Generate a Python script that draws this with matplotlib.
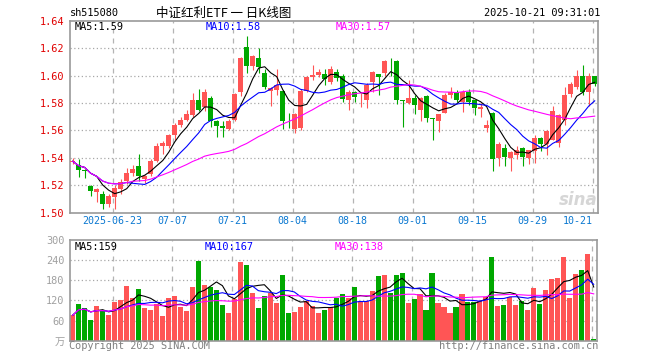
import numpy as np
import pandas as pd
import matplotlib
matplotlib.use('Agg')
import matplotlib.pyplot as plt

# trading days shown (National Day holiday removed)
dates = pd.bdate_range('2025-06-12', '2025-10-21')
dates = dates[(dates < '2025-10-01') | (dates > '2025-10-08')]

# daily prices
open_ = [1.537, 1.535, 1.5314, 1.5195, 1.515, 1.514, 1.506, 1.5115, 1.5175, 1.5228,
         1.529, 1.5337, 1.5245, 1.528, 1.5378, 1.5487, 1.5486, 1.557, 1.5638, 1.5677,
         1.571, 1.5825, 1.5772, 1.5835, 1.567, 1.563, 1.5612, 1.5677, 1.588, 1.6205,
         1.607, 1.6127, 1.602, 1.589, 1.5895, 1.5887, 1.5685, 1.5613, 1.5621, 1.5891,
         1.5989, 1.6001, 1.6013, 1.5952, 1.6026, 1.600, 1.5821, 1.5882, 1.5833, 1.5821,
         1.5956, 1.6012, 1.6017, 1.6095, 1.6103, 1.5821, 1.5801, 1.5838, 1.5752, 1.585,
         1.5691, 1.5669, 1.5728, 1.5858, 1.5882, 1.5809, 1.5882, 1.5821, 1.5757, 1.562,
         1.5728, 1.5397, 1.5471, 1.5397, 1.5424, 1.5473, 1.5399, 1.5453, 1.5547, 1.5502,
         1.553, 1.551, 1.5675, 1.5863, 1.5913, 1.5995, 1.588, 1.5995]
high = [1.540, 1.539, 1.5316, 1.5205, 1.518, 1.516, 1.5135, 1.520, 1.5245, 1.5325,
        1.535, 1.5428, 1.5275, 1.539, 1.5505, 1.552, 1.5575, 1.5655, 1.5695, 1.575,
        1.587, 1.590, 1.590, 1.585, 1.5675, 1.5665, 1.5685, 1.5875, 1.6135, 1.6285,
        1.615, 1.620, 1.6045, 1.592, 1.6045, 1.5895, 1.5725, 1.5726, 1.590, 1.600,
        1.6075, 1.605, 1.6045, 1.607, 1.605, 1.601, 1.5895, 1.589, 1.587, 1.5944,
        1.603, 1.6015, 1.611, 1.6127, 1.611, 1.5825, 1.5968, 1.5858, 1.5846, 1.5858,
        1.5691, 1.5723, 1.587, 1.5914, 1.5895, 1.5895, 1.590, 1.5825, 1.5797, 1.5674,
        1.5735, 1.5515, 1.5502, 1.545, 1.549, 1.5478, 1.546, 1.5564, 1.5555, 1.5605,
        1.5777, 1.5723, 1.5914, 1.5956, 1.6042, 1.6078, 1.6022, 1.5998]
low = [1.5355, 1.526, 1.5256, 1.512, 1.508, 1.503, 1.504, 1.5025, 1.5135, 1.521,
       1.527, 1.523, 1.5215, 1.527, 1.537, 1.543, 1.5475, 1.553, 1.5628, 1.5672,
       1.570, 1.574, 1.5745, 1.5625, 1.555, 1.555, 1.5605, 1.5672, 1.585, 1.602,
       1.604, 1.602, 1.5905, 1.5775, 1.586, 1.561, 1.562, 1.558, 1.560, 1.588,
       1.597, 1.599, 1.5933, 1.594, 1.596, 1.581, 1.5748, 1.581, 1.5772, 1.5767,
       1.5882, 1.5858, 1.600, 1.600, 1.5795, 1.5625, 1.579, 1.5723, 1.5669, 1.5662,
       1.5532, 1.5588, 1.5725, 1.5833, 1.5809, 1.5735, 1.5784, 1.5711, 1.5699, 1.5588,
       1.5306, 1.5343, 1.5343, 1.5306, 1.5392, 1.5343, 1.5355, 1.536, 1.5449, 1.5424,
       1.5527, 1.5478, 1.564, 1.5846, 1.590, 1.5858, 1.578, 1.5925]
close = [1.5375, 1.531, 1.5305, 1.516, 1.5175, 1.506, 1.512, 1.518, 1.5225, 1.529,
         1.532, 1.5265, 1.5266, 1.5375, 1.5485, 1.551, 1.5566, 1.5643, 1.5675, 1.5723,
         1.5825, 1.5752, 1.588, 1.567, 1.5632, 1.562, 1.567, 1.5868, 1.613, 1.607,
         1.614, 1.6066, 1.5915, 1.591, 1.593, 1.567, 1.568, 1.572, 1.5891, 1.5989,
         1.6006, 1.6026, 1.5977, 1.6045, 1.5982, 1.583, 1.5882, 1.5846, 1.5838, 1.5931,
         1.6025, 1.5993, 1.6103, 1.609, 1.5821, 1.5811, 1.5833, 1.5784, 1.5833, 1.5694,
         1.568, 1.5723, 1.5858, 1.5882, 1.5821, 1.5882, 1.5809, 1.576, 1.5772, 1.5642,
         1.5392, 1.5498, 1.5404, 1.5446, 1.5458, 1.5404, 1.5458, 1.5547, 1.5502, 1.5596,
         1.574, 1.571, 1.5855, 1.594, 1.600, 1.588, 1.600, 1.5935]
# volume, 10k shares
volume = [76, 108, 98, 62, 103, 91, 76, 116, 121, 163,
          128, 154, 96, 91, 109, 74, 128, 133, 99, 88,
          161, 237, 166, 160, 151, 106, 84, 124, 234, 226,
          142, 98, 134, 143, 112, 196, 83, 85, 100, 118,
          103, 83, 91, 99, 128, 139, 128, 160, 118, 118,
          148, 193, 196, 143, 196, 202, 113, 124, 139, 91,
          202, 113, 101, 83, 100, 139, 115, 115, 118, 130,
          249, 103, 106, 130, 106, 118, 91, 157, 109, 151,
          184, 187, 249, 127, 199, 211, 258, 5]

tick_labels = ['2025-06-23', '07-07', '07-21', '08-04', '08-18', '09-01', '09-15', '09-29', '10-21']
price_ticks = [1.50, 1.52, 1.54, 1.56, 1.58, 1.60, 1.62, 1.64]
vol_ticks = [0, 60, 120, 180, 240, 300]
price_ma_text = ['MA5:1.59', 'MA10:1.58', 'MA30:1.57']
vol_ma_text = ['MA5:159', 'MA10:167', 'MA30:138']

RED = '#ff5555'
GREEN = '#00a800'
GRID = '#a8a8a8'
MONO = 'DejaVu Sans Mono'
W, H = 660, 360

o = np.array(open_)
h = np.array(high)
l = np.array(low)
c = np.array(close)
v = np.array(volume, dtype=float)
x = np.arange(len(dates))
up = c >= o
cols = np.where(up, RED, GREEN)

cs = pd.Series(c)
vs = pd.Series(v)

fig = plt.figure(figsize=(W / 100, H / 100), dpi=100)
ax = fig.add_axes([70 / W, 1 - 212.7 / H, 528 / W, 192 / H])
axv = fig.add_axes([70 / W, 1 - 340.7 / H, 527 / W, 100.7 / H])

grid_x = [list(dates.strftime('%m-%d')).index(t[-5:]) for t in tick_labels]
# gridlines in this chart sit ~2px left of the candle centre
grid_pos = [g - 0.35 for g in grid_x]

for a in (ax, axv):
    a.set_xlim(-0.45, 87.55)
    for s in a.spines.values():
        s.set_color('#999999')
        s.set_linewidth(1.2)
    for g in grid_pos:
        a.axvline(g, color='#b4b4b4', lw=0.9, ls=(0, (4, 4)), zorder=0)
    a.set_xticks([])
    a.tick_params(axis='y', length=0, pad=4)

# price panel
ax.set_ylim(1.50, 1.64)
ax.set_yticks(price_ticks)
ax.set_yticklabels(['%.2f' % t for t in price_ticks], color='#e00000', family=MONO, fontsize=7.4)
for t in price_ticks[1:-1]:
    ax.axhline(t, color=GRID, lw=0.9, ls=(0, (1, 2)), zorder=0)

ax.vlines(x, l, h, colors=cols, lw=0.8, zorder=2)
ax.bar(x, np.maximum(np.abs(c - o), 0.0004), bottom=np.minimum(o, c), width=0.8,
       color=cols, linewidth=0, zorder=3)
ax.plot(x, cs.rolling(5, min_periods=1).mean(), color='black', lw=0.8, zorder=4)
ax.plot(x, cs.rolling(10, min_periods=1).mean(), color='#0000ff', lw=0.8, zorder=4)
ax.plot(x, cs.rolling(30, min_periods=1).mean(), color='#ff00ff', lw=0.8, zorder=4)

for g, t in zip(grid_x, tick_labels):
    if t == tick_labels[-1]:
        ax.text(g - 0.4, -0.045, t, transform=ax.get_xaxis_transform(), ha='right', va='center',
                color='#0b78d1', family=MONO, fontsize=7.2)
    else:
        ax.text(g - 0.35, -0.045, t, transform=ax.get_xaxis_transform(), ha='center', va='center',
                color='#0b78d1', family=MONO, fontsize=7.2)

# volume panel
axv.set_ylim(0, 300)
axv.set_yticks(vol_ticks)
axv.set_yticklabels(['万'] + [str(t) for t in vol_ticks[1:]], color='#a0a0a0', fontsize=7.4,
                    family=[MONO, 'Noto Sans CJK SC'])
for t in vol_ticks[1:-1]:
    axv.axhline(t, color=GRID, lw=0.9, ls=(0, (1, 2)), zorder=0)
axv.bar(x, v, width=0.85, color=cols, linewidth=0, zorder=2)
axv.plot(x, vs.rolling(5, min_periods=1).mean(), color='black', lw=0.8, zorder=4)
axv.plot(x, vs.rolling(10, min_periods=1).mean(), color='#0000ff', lw=0.8, zorder=4)
axv.plot(x, vs.rolling(30, min_periods=1).mean(), color='#ff00ff', lw=0.8, zorder=4)


def ftext(px, py, s, **kw):
    fig.text(px / W, 1 - py / H, s, **kw)


ftext(70, 13, 'sh515080', family=MONO, fontsize=7.4, va='center')
ftext(224, 13, '中证红利ETF 一 日K线图', family=['Noto Sans CJK SC', 'DejaVu Sans'], fontsize=9,
      ha='center', va='center')
ftext(600, 13, '2025-10-21 09:31:01', family=MONO, fontsize=7.4, ha='right', va='center')

ma_cols = ['black', '#0000ff', '#ff00ff']
for px, s, col in zip([75, 206, 336], price_ma_text, ma_cols):
    ftext(px, 27, s, family=MONO, fontsize=7.4, color=col, va='center')
for px, s, col in zip([75, 205, 335], vol_ma_text, ma_cols):
    ftext(px, 247, s, family=MONO, fontsize=7.4, color=col, va='center')

ftext(69, 346, 'Copyright 2025 SINA.COM', family=MONO, fontsize=7.4, color='#808080', va='center')
ftext(598, 346, 'http://finance.sina.com.cn', family=MONO, fontsize=7.4, color='#808080',
      ha='right', va='center')
ftext(578, 200, 'sina', fontsize=12, color='#d6d6d6', style='italic', weight='bold',
      ha='center', va='center')

fig.savefig('out.png', dpi=100)
